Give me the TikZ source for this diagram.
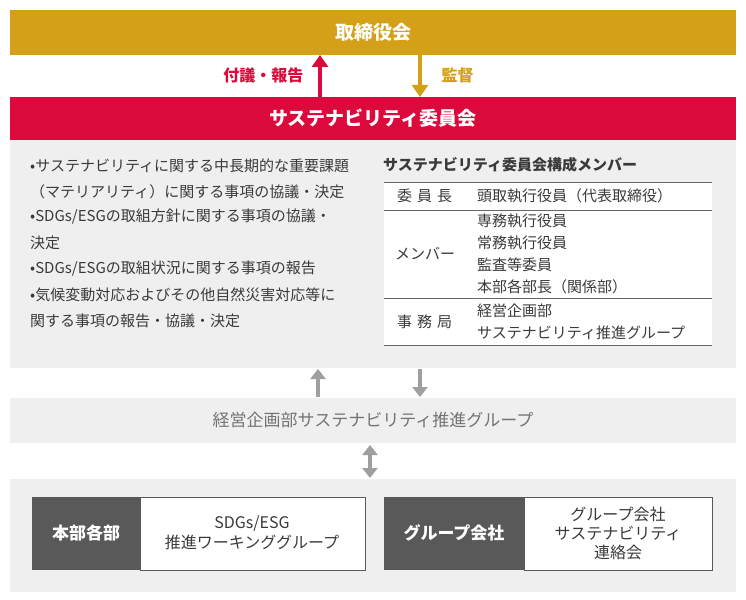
\documentclass[tikz,border=0pt]{standalone}
\usepackage{fontspec}
\setmainfont{Noto Sans CJK JP}
\usetikzlibrary{arrows.meta}
\definecolor{gold}{HTML}{D4A017}
\definecolor{crimson}{HTML}{DC0A3C}
\definecolor{panel}{HTML}{EFEFEF}
\definecolor{darkbox}{HTML}{595959}
\definecolor{txtgray}{HTML}{3A3A3A}
\begin{document}
\begin{tikzpicture}[x=1pt, y=-1pt, font=\fontsize{15}{25.5}\selectfont]
	\tikzstyle{bulletStyle} = [anchor=west, inner sep=0pt, text=txtgray]
	\tikzstyle{cellStyle} = [anchor=west, inner sep=0pt, text=txtgray, align=left, font=\fontsize{15}{22}\selectfont]
	\tikzstyle{rowLine} = [draw=gray!80!black, line width=0.8pt]
	\tikzstyle{bigArrow} = [line width=3.5pt, -{Triangle[length=12pt, width=16pt]}]
	\tikzstyle{grayArrow} = [line width=3.5pt, draw=gray!75, -{Triangle[length=10pt, width=15pt]}]
	\useasboundingbox (0,0) rectangle (746,599);
	\fill[white] (0,0) rectangle (746,599);
	% board and committee bars
	\fill[gold] (10,10) rectangle (736,55);
	\node[text=white, font=\fontsize{19}{22}\selectfont\bfseries] (board) at (373,32) {取締役会};
	\fill[crimson] (10,97) rectangle (736,140);
	\node[text=white, font=\fontsize{19}{22}\selectfont\bfseries] (committee) at (373,118) {サステナビリティ委員会};
	\coordinate (upS) at (320,97); \coordinate (upE) at (320,55);
	\coordinate (dnS) at (420,55); \coordinate (dnE) at (420,97);
	\draw[bigArrow, crimson] (upS) -- (upE);
	\draw[bigArrow, gold] (dnS) -- (dnE);
	\node[text=crimson, anchor=east, font=\fontsize{16}{20}\selectfont\bfseries] (report) at (307,75) {付議・報告};
	\node[text=gold, anchor=west, font=\fontsize{16}{20}\selectfont\bfseries] (supervise) at (438,75) {監督};
	% committee panel
	\fill[panel] (10,140) rectangle (736,368);
	\node[bulletStyle] (b1) at (30,166) {•サステナビリティに関する中長期的な重要課題};
	\node[bulletStyle] (b1b) at (30,192) {（マテリアリティ）に関する事項の協議・決定};
	\node[bulletStyle] (b2) at (30,217) {•SDGs/ESGの取組方針に関する事項の協議・};
	\node[bulletStyle] (b2b) at (30,243) {決定};
	\node[bulletStyle] (b3) at (30,269) {•SDGs/ESGの取組状況に関する事項の報告};
	\node[bulletStyle] (b4) at (30,295) {•気候変動対応およびその他自然災害対応等に};
	\node[bulletStyle] (b4b) at (30,321) {関する事項の報告・協議・決定};
	\node[anchor=west, inner sep=0pt, text=txtgray, font=\fontsize{15}{18}\selectfont\bfseries] (members) at (383,165) {サステナビリティ委員会構成メンバー};
	\fill[white] (384,182) rectangle (712,345);
	\draw[rowLine] (384,182) -- (712,182);
	\draw[rowLine] (384,210) -- (712,210);
	\draw[rowLine] (384,298) -- (712,298);
	\draw[rowLine] (384,345) -- (712,345);
	\node[cellStyle] (chair) at (397,196) {委\,\,員\,\,長};
	\node[cellStyle] (chairV) at (477,196) {頭取執行役員（代表取締役）};
	\node[cellStyle] (mem) at (395,254) {メンバー};
	\node[cellStyle] (memV) at (477,254) {専務執行役員\\常務執行役員\\監査等委員\\本部各部長（関係部）};
	\node[cellStyle] (sec) at (397,322) {事\,\,務\,\,局};
	\node[cellStyle] (secV) at (477,322) {経営企画部\\サステナビリティ推進グループ};
	% promotion group
	\coordinate (gUpS) at (318,397); \coordinate (gUpE) at (318,369);
	\coordinate (gDnS) at (420,369); \coordinate (gDnE) at (420,397);
	\draw[grayArrow] (gUpS) -- (gUpE);
	\draw[grayArrow] (gDnS) -- (gDnE);
	\fill[panel] (10,398) rectangle (736,443);
	\node[text=gray!90!black, font=\fontsize{17}{20}\selectfont] (promo) at (373,420) {経営企画部サステナビリティ推進グループ};
	\coordinate (dA) at (370,445); \coordinate (dB) at (370,478);
	\draw[grayArrow, {Triangle[length=10pt, width=15pt]}-{Triangle[length=10pt, width=15pt]}] (dA) -- (dB);
	% divisions and group companies
	\fill[panel] (10,479) rectangle (736,592);
	\fill[darkbox] (32,497) rectangle (140,570);
	\draw[darkbox, fill=white] (140,497) rectangle (365,570);
	\node[text=white, font=\fontsize{17}{20}\selectfont\bfseries] (div) at (86,533) {本部各部};
	\node[text=txtgray, align=center, font=\fontsize{16}{20}\selectfont] (wg) at (252,533) {SDGs/ESG\\推進ワーキンググループ};
	\fill[darkbox] (384,497) rectangle (524,570);
	\draw[darkbox, fill=white] (524,497) rectangle (712,570);
	\node[text=white, font=\fontsize{17}{20}\selectfont\bfseries] (grp) at (454,533) {グループ会社};
	\node[text=txtgray, align=center, font=\fontsize{16}{19}\selectfont] (liaison) at (618,533) {グループ会社\\サステナビリティ\\連絡会};
\end{tikzpicture}
\end{document}
